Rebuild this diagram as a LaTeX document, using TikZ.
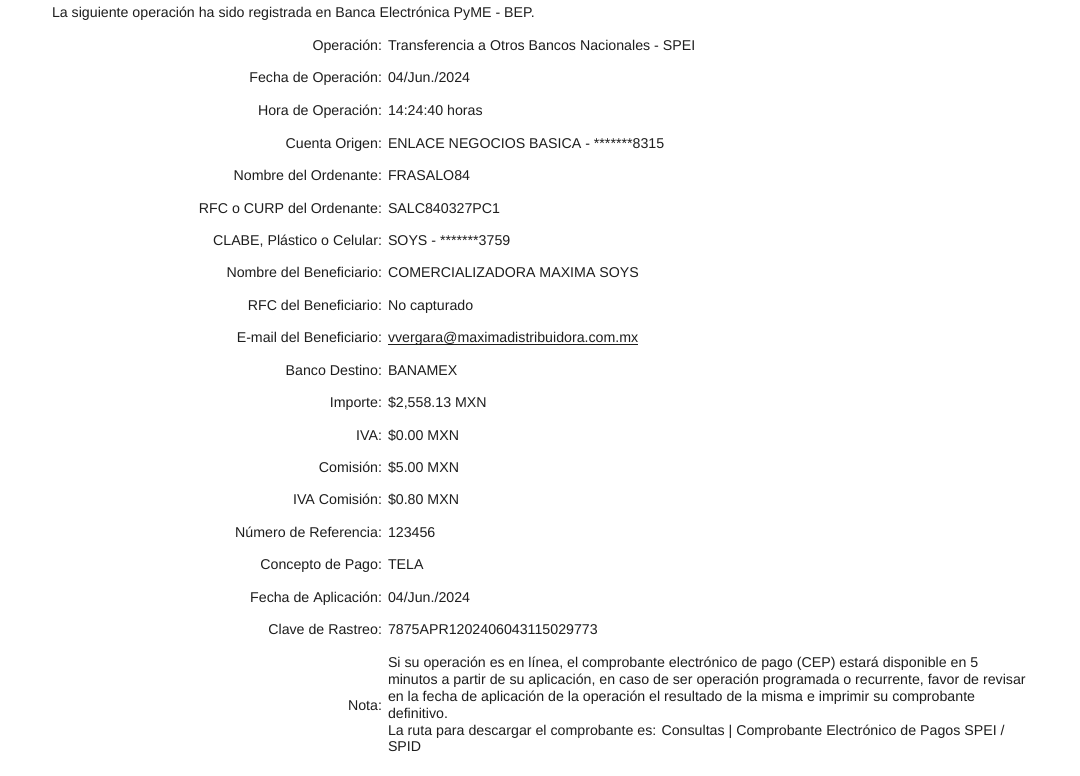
\documentclass[tikz,border=0pt]{standalone}
\usepackage{fontspec}
\setmainfont{Liberation Sans}
\definecolor{ink}{HTML}{1E1E1E}
\begin{document}
\begin{tikzpicture}[x=1pt,y=-1pt,
  every node/.style={inner sep=0pt,outer sep=0pt,text=ink,font=\fontsize{14.2}{16.8}\selectfont},
  lbl/.style={anchor=base east},
  val/.style={anchor=base west},
  note/.style={anchor=base west}]
\useasboundingbox[fill=white] (0,0) rectangle (1080,776);
\node[anchor=base west] (title) at (52,18) {La siguiente operación ha sido registrada en Banca Electrónica PyME - BEP.};
\def\lx{382}\def\vx{388}
\node[lbl] (l1) at (\lx,51) {Operación:};
\node[val] (v1) at (\vx,51) {Transferencia a Otros Bancos Nacionales - SPEI};
\node[lbl] (l2) at (\lx,83) {Fecha de Operación:};
\node[val] (v2) at (\vx,83) {04/Jun./2024};
\node[lbl] (l3) at (\lx,115.5) {Hora de Operación:};
\node[val] (v3) at (\vx,115.5) {14:24:40 horas};
\node[lbl] (l4) at (\lx,148) {Cuenta Origen:};
\node[val] (v4) at (\vx,148) {ENLACE NEGOCIOS BASICA - *******8315};
\node[lbl] (l5) at (\lx,180.5) {Nombre del Ordenante:};
\node[val] (v5) at (\vx,180.5) {FRASALO84};
\node[lbl] (l6) at (\lx,213) {RFC o CURP del Ordenante:};
\node[val] (v6) at (\vx,213) {SALC840327PC1};
\node[lbl] (l7) at (\lx,245.5) {CLABE, Plástico o Celular:};
\node[val] (v7) at (\vx,245.5) {SOYS - *******3759};
\node[lbl] (l8) at (\lx,277.5) {Nombre del Beneficiario:};
\node[val] (v8) at (\vx,277.5) {COMERCIALIZADORA MAXIMA SOYS};
\node[lbl] (l9) at (\lx,310) {RFC del Beneficiario:};
\node[val] (v9) at (\vx,310) {No capturado};
\node[lbl] (l10) at (\lx,342.5) {E-mail del Beneficiario:};
\node[val] (v10) at (\vx,342.5) {vvergara@maximadistribuidora.com.mx};
\draw[ink,line width=0.8pt] ([yshift=-2pt]v10.base west) -- ([yshift=-2pt]v10.base east);
\node[lbl] (l11) at (\lx,375) {Banco Destino:};
\node[val] (v11) at (\vx,375) {BANAMEX};
\node[lbl] (l12) at (\lx,407.5) {Importe:};
\node[val] (v12) at (\vx,407.5) {\$2,558.13 MXN};
\node[lbl] (l13) at (\lx,440) {IVA:};
\node[val] (v13) at (\vx,440) {\$0.00 MXN};
\node[lbl] (l14) at (\lx,472) {Comisión:};
\node[val] (v14) at (\vx,472) {\$5.00 MXN};
\node[lbl] (l15) at (\lx,504.5) {IVA Comisión:};
\node[val] (v15) at (\vx,504.5) {\$0.80 MXN};
\node[lbl] (l16) at (\lx,537) {Número de Referencia:};
\node[val] (v16) at (\vx,537) {123456};
\node[lbl] (l17) at (\lx,569.5) {Concepto de Pago:};
\node[val] (v17) at (\vx,569.5) {TELA};
\node[lbl] (l18) at (\lx,602) {Fecha de Aplicación:};
\node[val] (v18) at (\vx,602) {04/Jun./2024};
\node[lbl] (l19) at (\lx,634) {Clave de Rastreo:};
\node[val] (v19) at (\vx,634) {7875APR1202406043115029773};
\node[lbl] (l20) at (\lx,710) {Nota:};
\node[note] (n1) at (\vx,667) {Si su operación es en línea, el comprobante electrónico de pago (CEP) estará disponible en 5};
\node[note] (n2) at (\vx,684) {minutos a partir de su aplicación, en caso de ser operación programada o recurrente, favor de revisar};
\node[note] (n3) at (\vx,701) {en la fecha de aplicación de la operación el resultado de la misma e imprimir su comprobante};
\node[note] (n4) at (\vx,718) {definitivo.};
\node[note] (n5) at (\vx,735) {La ruta para descargar el comprobante es: Consultas | Comprobante Electrónico de Pagos SPEI /};
\node[note] (n6) at (\vx,751.5) {SPID};
\end{tikzpicture}
\end{document}
